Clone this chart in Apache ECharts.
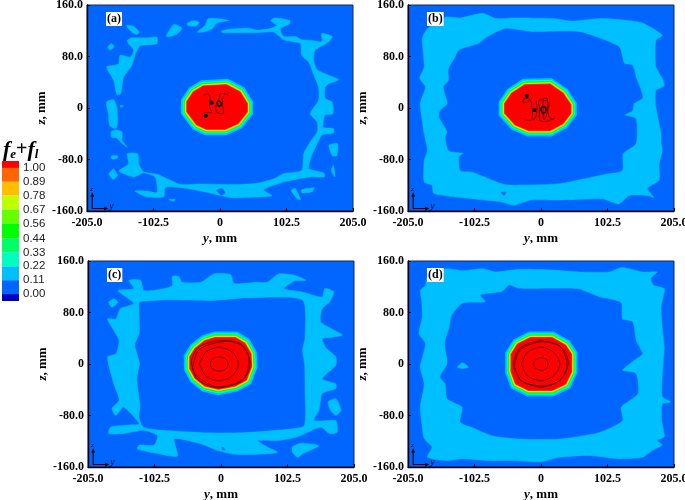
<!DOCTYPE html>
<html><head><meta charset="utf-8">
<style>html,body{margin:0;padding:0;background:#fff}#c{width:685px;height:500px;filter:blur(0.3px)}</style>
<script src="https://cdn.jsdelivr.net/npm/echarts@6/dist/echarts.min.js"></script>
</head><body><div id="c"></div>
<script>
// ---- axis ticks ----
const yRange = [-205, 205];
const zRange = [-160, 160];
const legendLevels = [1.00,0.89,0.78,0.67,0.56,0.44,0.33,0.22,0.11,0.00];
const legendEdges = [1.055,1.00,0.89,0.78,0.67,0.56,0.44,0.33,0.22,0.11,0.00,-0.055];
const legendColors = ['#FF0000','#FF6600','#FFBF00','#BFFF00','#66FF00','#00FF00','#00FF66','#00FFBF','#00BFFF','#0066FF','#0000BF'];

// ---- panel (a): band 0.11-0.22 regions, as [y,z] in mm ----
const aRegions = [
[[3,120],[21,123],[44,124],[57,121],[75,123],[88,128],[78,136],[85,140],[108,136],[107,131],[93,123],[98,111],[116,111],[126,106],[142,105],[157,103],[157,116],[173,111],[168,103],[147,90],[144,77],[150,59],[183,44],[168,38],[162,32],[162,15],[173,9],[174,-9],[162,-11],[159,-30],[175,-32],[175,-39],[157,-42],[150,-55],[142,-72],[137,-94],[160,-101],[161,-107],[139,-107],[98,-115],[67,-127],[80,-136],[67,-138],[16,-139],[-20,-131],[-51,-125],[-84,-123],[-87,-138],[-113,-138],[-131,-129],[-113,-129],[-97,-131],[-100,-107],[-118,-101],[-133,-107],[-156,-98],[-141,-87],[-143,-71],[-127,-71],[-125,-87],[-118,-99],[-97,-103],[-77,-112],[-61,-119],[-30,-118],[21,-119],[57,-117],[83,-110],[98,-102],[126,-97],[129,-71],[139,-53],[150,-37],[150,-22],[139,-9],[152,12],[152,32],[144,53],[137,71],[126,82],[124,100],[98,106],[83,118],[57,117],[21,117],[3,117]],
[[-144,128],[-133,127],[-125,118],[-128,114],[-136,118],[-141,123]],
[[-83,111],[-71,130],[-59,124],[-66,115],[-74,112]],
[[-51,131],[-41,136],[-32,133],[-38,127],[-49,128]],
[[-35,118],[-23,128],[-18,139],[-5,139],[13,136],[-5,132],[-12,123],[-25,118]],
[[-143,105],[-136,109],[-113,109],[-97,110],[-97,100],[-123,97],[-127,92],[-131,82],[-136,66],[-141,59],[-149,47],[-153,22],[-159,21],[-164,43],[-175,64],[-164,66],[-156,69],[-154,82],[-138,79],[-133,90],[-141,100]],
[[-173,95],[-167,100],[-163,95],[-170,90]],
[[-175,9],[-164,13],[-159,2],[-158,-24],[-161,-32],[-170,-27],[-172,-9]],
[[-168,-37],[-161,-34],[-151,-37],[-151,-50],[-143,-61],[-151,-55],[-159,-47],[-167,-45]],
[[-168,-75],[-158,-74],[-158,-78],[-167,-79]],
[[-171,-102],[-164,-95],[-158,-105],[-165,-111]],
[[110,-128],[116,-125],[124,-142],[119,-141]],
[[126,-127],[145,-124],[142,-130],[126,-132]],
[[168,-58],[181,-55],[180,-74],[173,-74]],
[[172,-94],[175,-89],[177,-107],[172,-99]],
[[-79,-142],[-69,-142],[-72,-145]],
[[-154,4],[-148,3],[-153,1]]
];
const aPockets = [[[-5,-128],[3,-125],[8,-132],[2,-135]]];
const aCore = [[-51,10],[-41,25],[-26,34],[10,36],[31,25],[42,7],[42,-6],[28,-24],[8,-33],[-21,-33],[-36,-26],[-51,-6]];
const aLines = [
[[-26,19],[-18,22],[-15,15],[-16,2],[-13,-7],[-18,-7],[-25,-8]],
[[14,19],[8,22],[0,22],[-1,15],[-6,5],[-5,-7],[5,-8],[4,5],[4,18]]
];
const aDots = [[-13,8],[-22,-12]];
const aRings = [[[-3,11],[0,10],[2,7],[1,3],[-2,3],[-4,6]]];

// ---- panel (b) ----
const bRegions = [
[[-183,108],[-175,123],[-147,141],[-124,140],[-90,147],[-70,139],[-44,140],[17,139],[48,135],[95,139],[141,135],[159,131],[187,113],[177,105],[177,64],[187,46],[190,35],[177,27],[177,2],[185,-40],[185,-55],[187,-66],[182,-87],[182,-112],[164,-125],[174,-139],[164,-136],[136,-136],[120,-149],[95,-141],[28,-143],[-16,-143],[-42,-151],[-60,-146],[-106,-141],[-165,-133],[-168,-120],[-180,-115],[-180,-81],[-175,-66],[-180,-40],[-186,7],[-178,33],[-187,46],[-180,64]]
];
const bPockets = [
[[-126,90],[-96,100],[-83,110],[-54,123],[-13,118],[59,118],[120,95],[128,69],[141,66],[146,48],[154,27],[156,15],[143,7],[141,-4],[128,-11],[146,-17],[146,-55],[126,-71],[125,-97],[100,-102],[28,-117],[-24,-119],[-57,-118],[-106,-99],[-124,-97],[-126,-76],[-119,-70],[-142,-66],[-147,-45],[-144,-37],[-157,-14],[-155,-4],[-144,7],[-150,33],[-142,43],[-142,61],[-132,79]],
[[-61,-131],[-54,-131],[-57,-136]]
];
const bCore = [[-56,7],[-45,23],[-25,36],[14,37],[34,23],[46,5],[46,-8],[34,-24],[14,-35],[-19,-35],[-40,-26],[-56,-8]];
const bLines = [
[[-27,15],[-17,13],[-14,2],[-13,-11],[-15,-19],[-25,-18]],
[[-2,12],[9,15],[10,-3],[14,-16],[21,-16],[6,-21],[-2,-19],[-2,-1],[-4,10],[-2,12]],
[[-8,12],[-6,-2],[-8,-14],[-12,-19]],
[[3,13],[4,-18],[8,-12],[12,8],[3,13]],
[[-25,15],[-29,10],[-20,9],[-17,14]]
];
const bDots = [[-22,19],[-10,-3]];
const bRings = [[[1,1],[5,2],[8,-2],[6,-7],[2,-7],[0,-3]]];

// ---- panel (c) ----
const cRegions = [
[[-142,130],[-124,130],[-119,114],[-88,117],[-75,122],[-75,136],[-65,136],[-60,127],[-31,127],[-11,140],[15,139],[20,125],[56,127],[71,127],[89,140],[113,138],[131,130],[113,129],[97,117],[125,112],[156,104],[160,117],[174,112],[167,96],[156,86],[154,65],[187,45],[167,41],[156,39],[161,26],[177,11],[177,-2],[156,-23],[177,-31],[177,-38],[156,-46],[151,-72],[143,-88],[177,-88],[179,-106],[167,-108],[154,-98],[118,-113],[87,-119],[56,-119],[71,-129],[87,-137],[61,-140],[20,-140],[-6,-134],[-31,-124],[-72,-116],[-67,-143],[-98,-139],[-129,-132],[-126,-126],[-103,-126],[-98,-111],[-119,-103],[-150,-108],[-173,-108],[-170,-98],[-147,-95],[-126,-93],[-150,-67],[-162,-80],[-168,-69],[-157,-56],[-165,-31],[-175,11],[-162,16],[-157,37],[-175,70],[-162,70],[-155,86],[-134,94],[-159,114],[-134,117]],
[[-173,96],[-165,101],[-159,96],[-168,88]],
[[110,-129],[123,-123],[151,-127],[125,-140],[118,-145],[110,-137]],
[[165,-59],[177,-54],[185,-72],[177,-80],[169,-72]]
];
const cPockets = [
[[-125,96],[-83,99],[-11,98],[41,102],[125,99],[129,42],[125,21],[128,1],[129,-46],[128,-95],[107,-100],[30,-106],[-21,-106],[-93,-102],[-119,-98],[-126,-82],[-124,-67],[-129,-23],[-125,1],[-132,29],[-125,50],[-126,91]],
[[160,37],[167,39],[162,32]],
[[2,-129],[7,-133],[2,-133]]
];
const cCore = [[-48,11],[-40,24],[-25,36],[-9,41],[22,41],[37,32],[46,16],[47,-4],[39,-25],[22,-34],[-4,-39],[-25,-34],[-40,-22],[-48,-7]];
const cLines = [
[[-17,0],[-13,8],[-3,11],[7,8],[11,0],[7,-8],[-3,-11],[-13,-8],[-17,0]],
[[-33,0],[-24,18],[-3,26],[18,18],[27,0],[18,-18],[-3,-26],[-24,-18],[-33,0]],
[[-46,3],[-36,25],[-4,36],[30,30],[45,4],[36,-22],[-3,-37],[-36,-24],[-46,3]],
[[-44,-6],[-34,22],[-2,34],[28,33],[43,10],[33,-26],[-8,-35],[-38,-18],[-44,-6]]
];
const cDots = [];
const cRings = [];

// ---- panel (d) ----
const dRegions = [
[[-186,114],[-178,122],[-175,136],[-147,148],[-121,145],[-90,148],[-70,143],[-34,147],[17,146],[59,143],[105,143],[125,150],[156,143],[179,143],[169,133],[174,122],[190,117],[185,89],[187,55],[190,26],[187,-15],[187,-51],[200,-59],[187,-62],[186,-88],[190,-113],[179,-119],[187,-126],[172,-134],[156,-145],[120,-147],[74,-142],[28,-145],[-1,-152],[-39,-150],[-80,-150],[-121,-147],[-147,-150],[-175,-145],[-168,-129],[-180,-116],[-183,-98],[-186,-67],[-180,-31],[-186,-5],[-178,32],[-188,47],[-183,73],[-184,99]]
];
const dPockets = [
[[-121,94],[-85,96],[-93,107],[-60,112],[-49,122],[-34,117],[28,117],[59,116],[89,104],[123,95],[125,70],[141,65],[146,37],[156,16],[146,8],[125,-10],[146,-15],[149,-46],[123,-67],[125,-88],[89,-106],[28,-116],[-29,-116],[-75,-111],[-106,-98],[-124,-90],[-121,-67],[-144,-54],[-147,-31],[-155,-20],[-144,1],[-148,32],[-141,57],[-137,76]]
];
const dIslands = [[[-129,-5],[-121,2],[-112,-5],[-121,-7]]];
const dCore = [[-46,15],[-36,31],[-16,41],[17,41],[38,29],[47,15],[47,-12],[38,-31],[17,-41],[-19,-41],[-39,-31],[-46,-12]];
const dLines = [
[[-12,0],[-8,7],[0,10],[8,7],[11,0],[8,-7],[0,-10],[-8,-7],[-12,0]],
[[-30,0],[-21,18],[0,26],[20,18],[29,0],[20,-18],[0,-26],[-21,-18],[-30,0]],
[[-43,1],[-32,25],[0,36],[31,26],[42,2],[31,-24],[0,-36],[-32,-24],[-43,1]],
[[-41,-4],[-33,21],[-4,34],[29,28],[40,-4],[27,-27],[4,-34],[-30,-27],[-41,-4]]
];
const dDots = [];
const dRings = [];

// ---- corner triad (mm) ----
const triadOrigin = [-197,-156];
const triadZ = [-197,-136];
const triadY = [-177,-156];

// ---- styling ----
const BG = '#0066FF', SKY = '#00BFFF';
const coreBands = [['#00BFFF',12],['#00FFBF',8.6],['#00FF66',7],['#00FF00',5.6],['#66FF00',4.4],['#BFFF00',3.4],['#FFBF00',2.4],['#FF6600',1.2]];
const SERIF = '"Liberation Serif","Times New Roman",serif';

const panels = [
 {tag:'(a)',left:87,top:5,  regions:aRegions,pockets:aPockets,islands:[],core:aCore,lines:aLines,dots:aDots,rings:aRings},
 {tag:'(b)',left:408,top:5, regions:bRegions,pockets:bPockets,islands:[],core:bCore,lines:bLines,dots:bDots,rings:bRings},
 {tag:'(c)',left:88,top:261,regions:cRegions,pockets:cPockets,islands:[],core:cCore,lines:cLines,dots:cDots,rings:cRings},
 {tag:'(d)',left:408,top:261,regions:dRegions,pockets:dPockets,islands:dIslands,core:dCore,lines:dLines,dots:dDots,rings:dRings}
];

function buildItems(p){
  const items=[];
  p.regions.forEach(r=>items.push({k:'fill',pts:r,color:SKY,smooth:0.2}));
  p.pockets.forEach(r=>items.push({k:'fill',pts:r,color:BG,smooth:0.2}));
  p.islands.forEach(r=>items.push({k:'fill',pts:r,color:SKY,smooth:0.2}));
  coreBands.forEach(b=>items.push({k:'band',pts:p.core,color:b[0],w:b[1]}));
  items.push({k:'fill',pts:p.core,color:'#FF0000',smooth:0});
  p.lines.forEach(l=>items.push({k:'line',pts:l,w:0.6}));
  p.rings.forEach(l=>items.push({k:'ring',pts:l,w:1.4}));
  p.dots.forEach(d=>items.push({k:'dot',pts:[d]}));
  items.push({k:'triad'});
  return items;
}
function renderer(items){
  return function(params,api){
    const it=items[params.dataIndex];
    if(it.k==='triad'){
      const o=api.coord(triadOrigin),z=api.coord(triadZ),y=api.coord(triadY);
      const st={stroke:'#000',lineWidth:1.1,fill:null};
      return {type:'group',children:[
        {type:'polyline',shape:{points:[z,o,y]},style:st},
        {type:'polygon',shape:{points:[[z[0],z[1]-3],[z[0]-2,z[1]+1],[z[0]+2,z[1]+1]]},style:{fill:'#000'}},
        {type:'polygon',shape:{points:[[y[0]+3,y[1]],[y[0]-1,y[1]-2],[y[0]-1,y[1]+2]]},style:{fill:'#000'}},
        {type:'text',style:{x:y[0]+4,y:y[1]-7,text:'y',fontFamily:SERIF,fontStyle:'italic',fontSize:10,fill:'#000'}},
        {type:'text',style:{x:z[0]-2,y:z[1]-10,text:'z',fontFamily:SERIF,fontStyle:'italic',fontSize:7,fill:'#000'}}
      ]};
    }
    const pts=it.pts.map(c=>api.coord(c));
    if(it.k==='fill')return {type:'polygon',shape:{points:pts,smooth:it.smooth},style:{fill:it.color,stroke:it.color,lineWidth:0.5}};
    if(it.k==='band')return {type:'polygon',shape:{points:pts},style:{fill:it.color,stroke:it.color,lineWidth:it.w,lineJoin:'miter'}};
    if(it.k==='line')return {type:'polyline',shape:{points:pts,smooth:0.3},style:{fill:null,stroke:'#111',lineWidth:it.w}};
    if(it.k==='ring')return {type:'polygon',shape:{points:pts,smooth:0.5},style:{fill:null,stroke:'#000',lineWidth:it.w}};
    return {type:'circle',shape:{cx:pts[0][0],cy:pts[0][1],r:2},style:{fill:'#000'}};
  };
}
const fmt=v=>v===0?'0':v.toFixed(1);
const grid=[],xAxis=[],yAxis=[],series=[],title=[];
panels.forEach((p,i)=>{
  grid.push({left:p.left,top:p.top,width:266,height:206,show:true,backgroundColor:BG,borderColor:'#1b2a4a',borderWidth:1,containLabel:false,outerBoundsMode:'none'});
  const labelStyle={color:'#000',fontFamily:SERIF,fontWeight:'bold',fontSize:12};
  const nameRich={rich:{i:{fontFamily:SERIF,fontWeight:'bold',fontStyle:'italic',fontSize:13,color:'#000'},b:{fontFamily:SERIF,fontWeight:'bold',fontSize:13,color:'#000'}}};
  xAxis.push({gridIndex:i,type:'value',min:yRange[0],max:yRange[1],interval:102.5,
    axisLine:{show:true,onZero:false,lineStyle:{color:'#000',width:1.4}},axisTick:{show:true,inside:true,length:3,lineStyle:{color:'#000'}},splitLine:{show:false},
    axisLabel:Object.assign({formatter:fmt,margin:6,showMinLabel:true,showMaxLabel:true},labelStyle),
    name:'{i|y}{b|, mm}',nameLocation:'middle',nameGap:21,nameTextStyle:nameRich});
  yAxis.push({gridIndex:i,type:'value',min:zRange[0],max:zRange[1],interval:80,
    axisLine:{show:true,onZero:false,lineStyle:{color:'#000',width:1.4}},axisTick:{show:true,inside:true,length:3,lineStyle:{color:'#000'}},splitLine:{show:false},
    axisLabel:Object.assign({formatter:fmt,margin:4,showMinLabel:true,showMaxLabel:true},labelStyle),
    name:'{i|z}{b|, mm}',nameLocation:'middle',nameGap:32,nameRotate:90,nameTextStyle:nameRich});
  const items=buildItems(p);
  series.push({type:'custom',xAxisIndex:i,yAxisIndex:i,clip:true,silent:true,animation:false,
    renderItem:renderer(items),data:items.map((_,k)=>[k])});
  title.push({text:p.tag,left:p.left+19,top:p.top+7,padding:[1,1,1,1],backgroundColor:'#fff',
    textStyle:{fontFamily:SERIF,fontWeight:'bold',fontSize:12,color:'#000'}});
});
// colour legend
grid.push({left:2,top:161,width:17,height:140,show:false,outerBoundsMode:'none'});
xAxis.push({gridIndex:4,type:'value',min:0,max:1,show:false});
yAxis.push({gridIndex:4,type:'value',min:legendEdges[legendEdges.length-1],max:legendEdges[0],position:'right',
  axisLine:{show:false},axisTick:{show:false},splitLine:{show:false},
  axisLabel:{customValues:legendLevels,formatter:v=>v.toFixed(2),inside:false,margin:4,color:'#222',fontFamily:'"Liberation Sans",Arial,sans-serif',fontSize:11.5,padding:[7,0,0,0]}});
series.push({type:'custom',xAxisIndex:4,yAxisIndex:4,silent:true,animation:false,clip:false,
  renderItem:(params,api)=>{
    const i=params.dataIndex;
    const a=api.coord([0,legendEdges[i]]),b=api.coord([1,legendEdges[i+1]]);
    return {type:'rect',shape:{x:a[0],y:a[1],width:b[0]-a[0],height:b[1]-a[1]},style:{fill:legendColors[i]}};
  },data:legendColors.map((_,i)=>[i])});
title.push({text:'{f|f}{s|e}{p|+}{f|f}{s|l}',left:3,top:139,padding:0,textStyle:{rich:{
  f:{fontFamily:SERIF,fontStyle:'italic',fontWeight:'bold',fontSize:22,color:'#000'},
  p:{fontFamily:SERIF,fontSize:20,fontWeight:'bold',color:'#000'},
  s:{fontFamily:SERIF,fontStyle:'italic',fontWeight:'bold',fontSize:13,color:'#000',verticalAlign:'bottom',padding:[8,0,0,0]}
}}});
const chart=echarts.init(document.getElementById('c'),null,{renderer:'canvas'});
chart.setOption({animation:false,backgroundColor:'#fff',title,grid,xAxis,yAxis,series});
</script></body></html>
